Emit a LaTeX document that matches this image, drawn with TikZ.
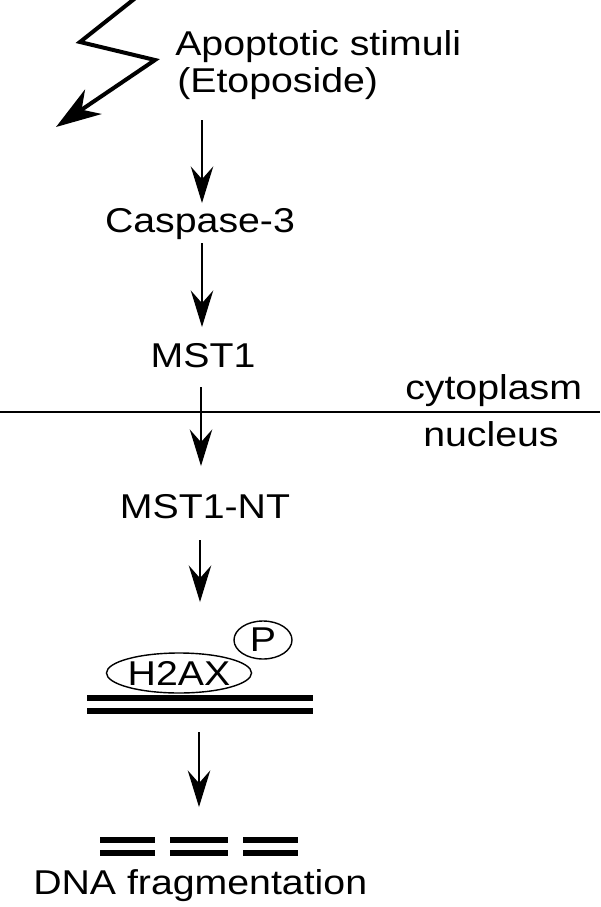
\documentclass[tikz,border=0pt]{standalone}
\usepackage{fontspec}
\setmainfont[FakeStretch=1.14]{Liberation Sans}
\usepackage{tikz}
\usetikzlibrary{arrows.meta}
\usetikzlibrary{shapes.geometric}

\tikzset{
  pathtext/.style={inner sep=0pt, font=\fontsize{24.5}{26}\selectfont},
  pathway/.style={line width=1.1pt, -{Stealth[length=26pt,width=16pt,inset=9pt]}},
  dnastrand/.style={line width=4.6pt}
}

\begin{document}
\begin{tikzpicture}[scale=1]
  \useasboundingbox (0,0) rectangle (15,-22.675);

  % Lightning bolt (apoptotic stimulus)
  \draw[line width=2.85pt, miter limit=20, -{Stealth[length=32pt,width=21pt,inset=10pt]}]
    (3.45,0.1) -- (2.0,-1.05) -- (3.875,-1.5) -- (1.4,-3.175);
  \node[pathtext, anchor=base west] (stim) at (4.375,-1.375) {Apoptotic stimuli};
  \node[pathtext, anchor=base west] (etop) at (4.425,-2.3) {(Etoposide)};

  % Pathway members
  \node[pathtext, anchor=base] (casp) at (5.0,-5.8) {Caspase-3};
  \node[pathtext, anchor=base] (mst) at (5.075,-9.175) {MST1};
  \node[pathtext, anchor=base] (mstnt) at (5.125,-12.95) {MST1-NT};

  % Compartments
  \draw[line width=1.4pt] (0,-10.3) -- (15,-10.3);
  \node[pathtext, anchor=base west] (cyto) at (10.125,-9.975) {cytoplasm};
  \node[pathtext, anchor=base west] (nuc) at (10.575,-11.15) {nucleus};

  % Phosphorylated H2AX on the DNA
  \node[pathtext, draw, ellipse, line width=1pt, minimum width=3.4cm, minimum height=1cm] (h2ax) at (4.475,-16.825) {H2AX};
  \node[pathtext, draw, ellipse, line width=1pt, minimum width=1.45cm, minimum height=0.95cm] (phos) at (6.575,-16.0) {P};
  \draw[dnastrand] (2.175,-17.45) -- (7.825,-17.45);
  \draw[dnastrand] (2.175,-17.775) -- (7.825,-17.775);

  % Fragmented DNA
  \draw[dnastrand] (2.5,-21.0) -- (3.875,-21.0);
  \draw[dnastrand] (2.5,-21.325) -- (3.875,-21.325);
  \draw[dnastrand] (4.25,-21.0) -- (5.7,-21.0);
  \draw[dnastrand] (4.25,-21.325) -- (5.7,-21.325);
  \draw[dnastrand] (6.075,-21.0) -- (7.45,-21.0);
  \draw[dnastrand] (6.075,-21.325) -- (7.45,-21.325);
  \node[pathtext, anchor=base west] (frag) at (0.825,-22.35) {DNA fragmentation};

  % Arrows
  \coordinate (a1) at (5.05,-3.0);    \coordinate (b1) at (5.05,-5.075);
  \coordinate (a2) at (5.05,-6.075);  \coordinate (b2) at (5.05,-8.175);
  \coordinate (a3) at (5.025,-9.675); \coordinate (b3) at (5.025,-11.65);
  \coordinate (a4) at (5.0,-13.5);    \coordinate (b4) at (5.0,-15.05);
  \coordinate (a5) at (4.975,-18.3);  \coordinate (b5) at (4.975,-20.175);
  \draw[pathway] (a1) -- (b1);
  \draw[pathway] (a2) -- (b2);
  \draw[pathway] (a3) -- (b3);
  \draw[pathway] (a4) -- (b4);
  \draw[pathway] (a5) -- (b5);
\end{tikzpicture}
\end{document}
